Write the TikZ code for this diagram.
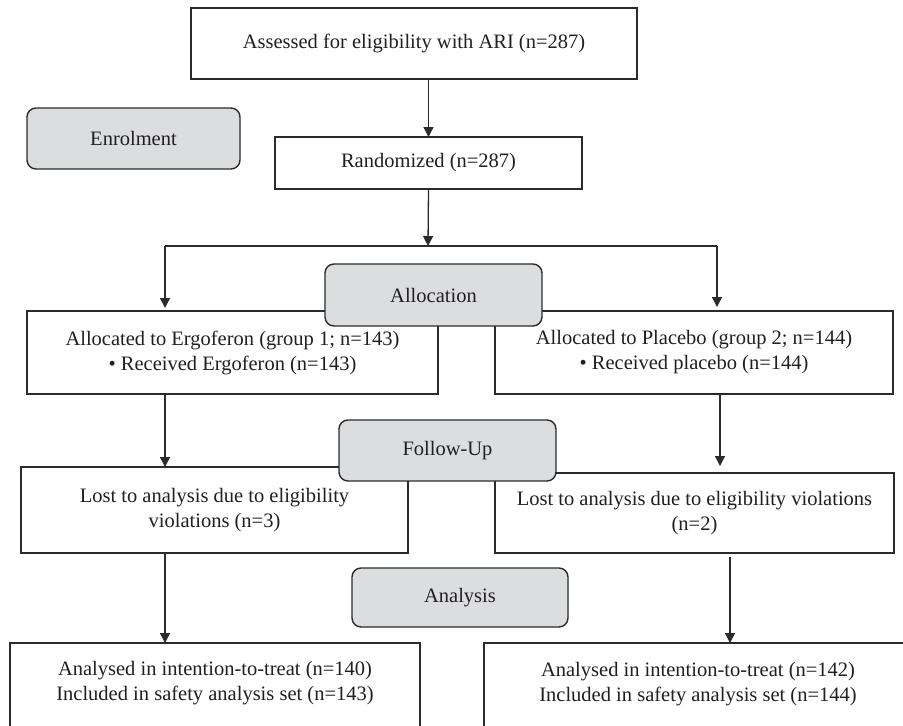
\documentclass[tikz,border=0pt]{standalone}
\usepackage{fontspec}
\setmainfont{Liberation Serif}
\usetikzlibrary{arrows.meta,calc}
\definecolor{boxgray}{HTML}{DCDDDF}
\definecolor{edge}{HTML}{2B2B2B}
\definecolor{ink}{HTML}{231F20}
\begin{document}
\begin{tikzpicture}[x=1pt,y=-1pt,
  font=\fontsize{20.5}{25}\selectfont, text=ink,
  wbox/.style={draw=edge, line width=1.4pt, fill=white, inner sep=0pt, outer sep=0pt, align=center},
  gbox/.style={wbox, fill=boxgray, rounded corners=9pt},
  conn/.style={draw=edge, line width=1.3pt},
  arr/.style={conn, -{Triangle[width=10pt,length=10pt]}}]
\fill[white] (0,0) rectangle (903,726);
\useasboundingbox (0,0) rectangle (903,726);

\node[wbox, minimum width=446pt, minimum height=71pt] (A) at (414,43.5) {Assessed for eligibility with ARI (n=287)};
\node[gbox, minimum width=213pt, minimum height=61pt] (E) at (133.5,138.5) {Enrolment};
\node[wbox, minimum width=307pt, minimum height=52pt] (R) at (428.5,163) {Randomized (n=287)};
\node[wbox, minimum width=411pt, minimum height=83pt] (L1) at (232.5,352.5) {Allocated to Ergoferon (group 1; n=143)\\\textbullet\ Received Ergoferon (n=143)};
\node[wbox, minimum width=398pt, minimum height=83pt] (R1) at (694,352.5) {Allocated to Placebo (group 2; n=144)\\\textbullet\ Received placebo (n=144)};
\node[gbox, minimum width=217pt, minimum height=62pt] (AL) at (433.5,295) {Allocation};
\node[wbox, minimum width=387pt, minimum height=86pt] (L2) at (214.5,510) {Lost to analysis due to eligibility\\violations (n=3)};
\node[wbox, minimum width=399pt, minimum height=80pt] (R2) at (694.5,513) {Lost to analysis due to eligibility violations\\(n=2)};
\node[gbox, minimum width=217pt, minimum height=61pt] (FU) at (447.5,450.5) {Follow-Up};
\node[gbox, minimum width=216pt, minimum height=59pt] (AN) at (460,597.5) {Analysis};
\node[wbox, minimum width=410pt, minimum height=120pt, anchor=north] (L3) at (215,643) {};
\node[align=center, inner sep=0pt] (L3t) at (215,683.5) {Analysed in intention-to-treat (n=140)\\Included in safety analysis set (n=143)};
\node[wbox, minimum width=428pt, minimum height=120pt, anchor=north] (R3) at (698,643) {};
\node[align=center, inner sep=0pt] (R3t) at (698,684) {Analysed in intention-to-treat (n=142)\\Included in safety analysis set (n=144)};

\coordinate (J) at (428,246);
\coordinate (JL) at (165,246);
\coordinate (JR) at (717,246);
\draw[arr] (A.south -| R.north) -- (R.north);
\draw[arr] (R.south) -- (J);
\draw[conn] (JL) -- (JR);
\draw[arr, shorten >=3pt] (JL) -- (JL |- L1.north);
\draw[arr, shorten >=4pt] (JR) -- (JR |- R1.north);
\draw[arr] (L1.south -| JL) -- (L2.north -| JL);
\draw[arr, shorten >=7pt] ([xshift=26pt]R1.south) -- ([xshift=26pt]R1.south |- R2.north);
\draw[arr] (L2.south -| JL) -- (L3.north -| JL);
\draw[arr, shorten <=4pt] ([xshift=35.5pt]R2.south) -- ([xshift=35.5pt]R2.south |- R3.north);
\end{tikzpicture}
\end{document}
